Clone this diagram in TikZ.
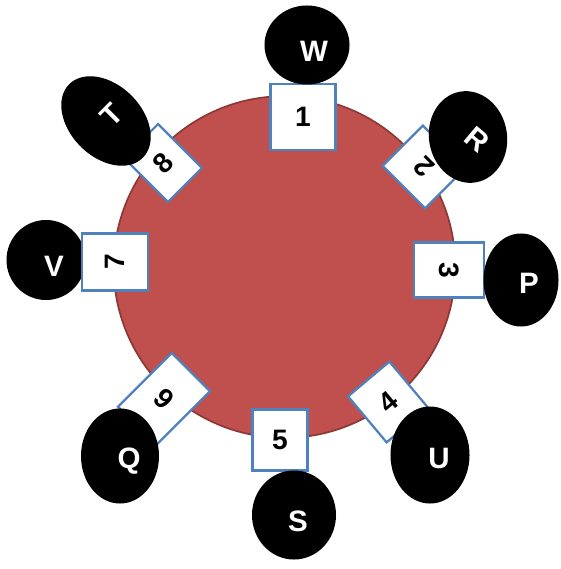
\documentclass[tikz,border=0pt]{standalone}
\usepackage{fontspec}
\setmainfont{Liberation Sans}
\usetikzlibrary{shapes.geometric}
\definecolor{disc}{HTML}{C0504D}
\definecolor{discline}{HTML}{8C3836}
\definecolor{boxline}{HTML}{4F81BD}
\tikzset{
  numbox/.style={draw=boxline, line width=1.6pt, fill=white, inner sep=0pt,
    font=\fontsize{20}{24}\selectfont\bfseries},
  seat/.style={ellipse, fill=black, inner sep=0pt},
  letr/.style={text=white, inner sep=0pt, font=\fontsize{21}{24}\selectfont\bfseries}
}

\begin{document}
\begin{tikzpicture}[x=0.025cm, y=-0.025cm]
    \useasboundingbox (0,0) rectangle (560,569);
    \node[circle, fill=disc, draw=discline, line width=1.2pt, minimum size=8.54cm, inner sep=0pt] (table) at (284.5,267) {};
    \node[seat, minimum width=1.975cm, minimum height=2cm] (v) at (46,260) {};
    \node[numbox, minimum width=1.625cm, minimum height=1.65cm] (b1) at (303,117) {1};
    \node[numbox, rotate=135, minimum width=1.5cm, minimum height=1.425cm] (b2) at (424,167) {2};
    \node[numbox, rotate=-90, minimum width=1.375cm, minimum height=1.75cm] (b3) at (449,270) {3};
    \node[numbox, rotate=40, minimum width=1.35cm, minimum height=1.5cm] (b4) at (388,402) {4};
    \node[numbox, minimum width=1.375cm, minimum height=1.525cm] (b5) at (280,440) {5};
    \node[numbox, rotate=135, minimum width=1.35cm, minimum height=1.9cm] (b6) at (164,399) {6};
    \node[numbox, rotate=90, minimum width=1.425cm, minimum height=1.65cm] (b7) at (115,262) {7};
    \node[numbox, rotate=45, minimum width=1.2cm, minimum height=1.55cm] (b8) at (163,163) {8};
    \node[seat, minimum width=2.125cm, minimum height=1.975cm] (w) at (307,45) {};
    \node[seat, rotate=10, minimum width=1.95cm, minimum height=2.3cm] (r) at (468,137) {};
    \node[seat, minimum width=1.875cm, minimum height=2.325cm] (p) at (521,280) {};
    \node[seat, minimum width=1.975cm, minimum height=2.425cm] (u) at (430,455) {};
    \node[seat, minimum width=2.1cm, minimum height=2.225cm] (s) at (294,515) {};
    \node[seat, minimum width=1.95cm, minimum height=2.375cm] (q) at (120,456) {};
    \node[seat, rotate=45, minimum width=1.8cm, minimum height=2.6cm] (t) at (106,121) {};
    \node[letr] (wl) at (314,51) {W};
    \node[letr, rotate=-40] (rl) at (477,140) {R};
    \node[letr] (pl) at (529,283) {P};
    \node[letr] (ul) at (439,458) {U};
    \node[letr] (sl) at (298,521) {S};
    \node[letr] (ql) at (129,461) {Q};
    \node[letr] (vl) at (54,266) {V};
    \node[letr, rotate=45] (tl) at (112,115) {T};
\end{tikzpicture}
\end{document}
